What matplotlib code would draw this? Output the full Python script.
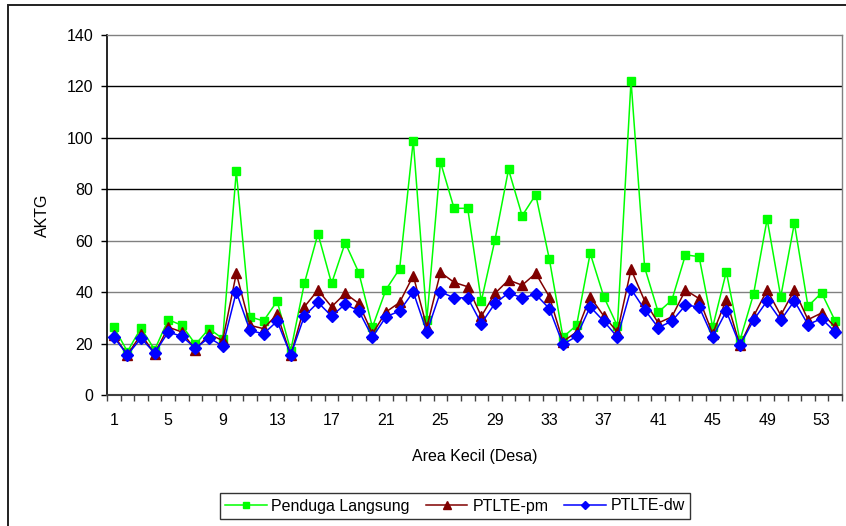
import matplotlib
matplotlib.use("Agg")
import matplotlib.pyplot as plt
from matplotlib.patches import Rectangle
import numpy as np

plt.rcParams["font.family"] = ["Liberation Sans", "DejaVu Sans"]

# ---- data (54 small areas) ----
area = list(range(1, 55))

penduga_langsung = [26.4, 16.9, 26.1, 17.6, 29.3, 27.1, 19.7, 25.8, 21.9, 87.0,
                    30.4, 28.8, 36.5, 17.3, 43.4, 62.7, 43.4, 59.2, 47.6, 26.4,
                    41.0, 49.1, 98.9, 29.3, 90.6, 72.6, 72.6, 36.5, 60.2, 87.7,
                    69.7, 77.9, 52.8, 22.5, 27.1, 55.1, 38.2, 26.8, 122.2, 49.6,
                    32.2, 36.9, 54.5, 53.8, 26.4, 47.9, 21.2, 39.2, 68.4, 38.2,
                    66.8, 34.5, 39.7, 28.8]

ptlte_pm = [23.2, 15.6, 23.6, 16.0, 26.4, 24.5, 17.6, 23.6, 21.2, 47.3,
            27.1, 25.8, 31.4, 15.4, 34.3, 40.8, 34.3, 39.5, 35.6, 23.8,
            32.3, 36.0, 46.4, 26.4, 47.7, 43.8, 42.1, 30.6, 39.5, 44.7,
            42.7, 47.3, 38.2, 20.8, 24.5, 38.2, 30.7, 24.5, 48.9, 36.6,
            28.0, 30.4, 40.8, 37.5, 23.8, 37.1, 19.3, 30.6, 40.8, 31.0,
            40.8, 29.3, 31.9, 26.4]

ptlte_dw = [22.5, 15.6, 22.1, 16.3, 24.5, 22.8, 18.2, 22.3, 19.0, 40.1,
            25.1, 23.8, 28.7, 15.6, 30.7, 36.0, 30.7, 35.3, 32.7, 22.5,
            30.4, 32.7, 40.1, 24.5, 40.1, 37.8, 37.8, 27.8, 35.6, 39.7,
            37.8, 39.1, 33.6, 19.7, 22.8, 34.3, 28.7, 22.5, 41.2, 33.2,
            26.2, 28.7, 34.9, 34.3, 22.5, 32.6, 19.3, 29.1, 36.6, 29.1,
            36.6, 27.4, 29.7, 24.5]

tick_labels = [str(k) for k in range(1, 55, 4)]

W, H = 846, 526
fig = plt.figure(figsize=(W / 100, H / 100), dpi=100)
ax = fig.add_axes([107 / W, 1 - 395 / H, (842 - 107) / W, (395 - 35) / H])

# gridlines (upper ones look darker in the reference)
for yv in [20, 40, 60]:
    ax.axhline(yv, color="#808080", lw=1.0, zorder=1)
for yv in [80, 100, 120]:
    ax.axhline(yv, color="#000000", lw=1.0, zorder=1)

ax.plot(area, penduga_langsung, color="#00ff00", lw=1.1, marker="s", ms=6.3,
        mec="#00ff00", mfc="#00ff00", label="Penduga Langsung", zorder=3)
ax.plot(area, ptlte_pm, color="#800000", lw=1.1, marker="^", ms=7.8,
        mec="#800000", mfc="#800000", label="PTLTE-pm", zorder=4)
ax.plot(area, ptlte_dw, color="#0000ff", lw=1.1, marker="D", ms=5.8,
        mec="#0000ff", mfc="#0000ff", label="PTLTE-dw", zorder=5)

ax.set_xlim(0.5, 54.5)
ax.set_ylim(0, 140)
ax.set_yticks(range(0, 141, 20))
ax.tick_params(axis="y", length=4, width=1, pad=6, labelsize=11.5, colors="#000000")

# tick marks at category boundaries, labels every 4th category
ax.set_xticks(np.arange(0.5, 55, 1))
ax.set_xticklabels([])
ax.tick_params(axis="x", which="major", length=4, width=1, color="#404040")
ax.set_xticks(range(1, 55, 4), minor=True)
ax.set_xticklabels(tick_labels, minor=True)
ax.tick_params(axis="x", which="minor", length=0, pad=13, labelsize=11.5)

for side in ["top", "right"]:
    ax.spines[side].set_color("#808080")
    ax.spines[side].set_linewidth(1.0)
ax.spines["left"].set_color("#000000")
ax.spines["bottom"].set_color("#404040")
ax.spines["left"].set_linewidth(1.2)
ax.spines["bottom"].set_linewidth(1.5)

ax.set_ylabel("AKTG", fontsize=11.5)
ax.yaxis.set_label_coords((50 - 107) / (842 - 107), 0.5)
ax.set_xlabel("Area Kecil (Desa)", fontsize=11.5)
ax.xaxis.set_label_coords(0.5, -(449 - 395) / (395 - 35))

leg = fig.legend(loc="center", bbox_to_anchor=(455 / W, 1 - 506 / H), ncol=3,
                 fontsize=11.5, frameon=True, fancybox=False, edgecolor="#000000",
                 handlelength=2.6, handletextpad=0.3, columnspacing=1.0,
                 borderpad=0.35, markerscale=0.75)
leg.get_frame().set_linewidth(1.0)

# outer chart border (left and top visible)
fig.patches.append(Rectangle((8 / W, -0.1), 1.2, 1 - 5 / H + 0.1,
                             transform=fig.transFigure, fill=False,
                             edgecolor="#202020", lw=1.4, zorder=0))

fig.savefig("out.png", dpi=100)
